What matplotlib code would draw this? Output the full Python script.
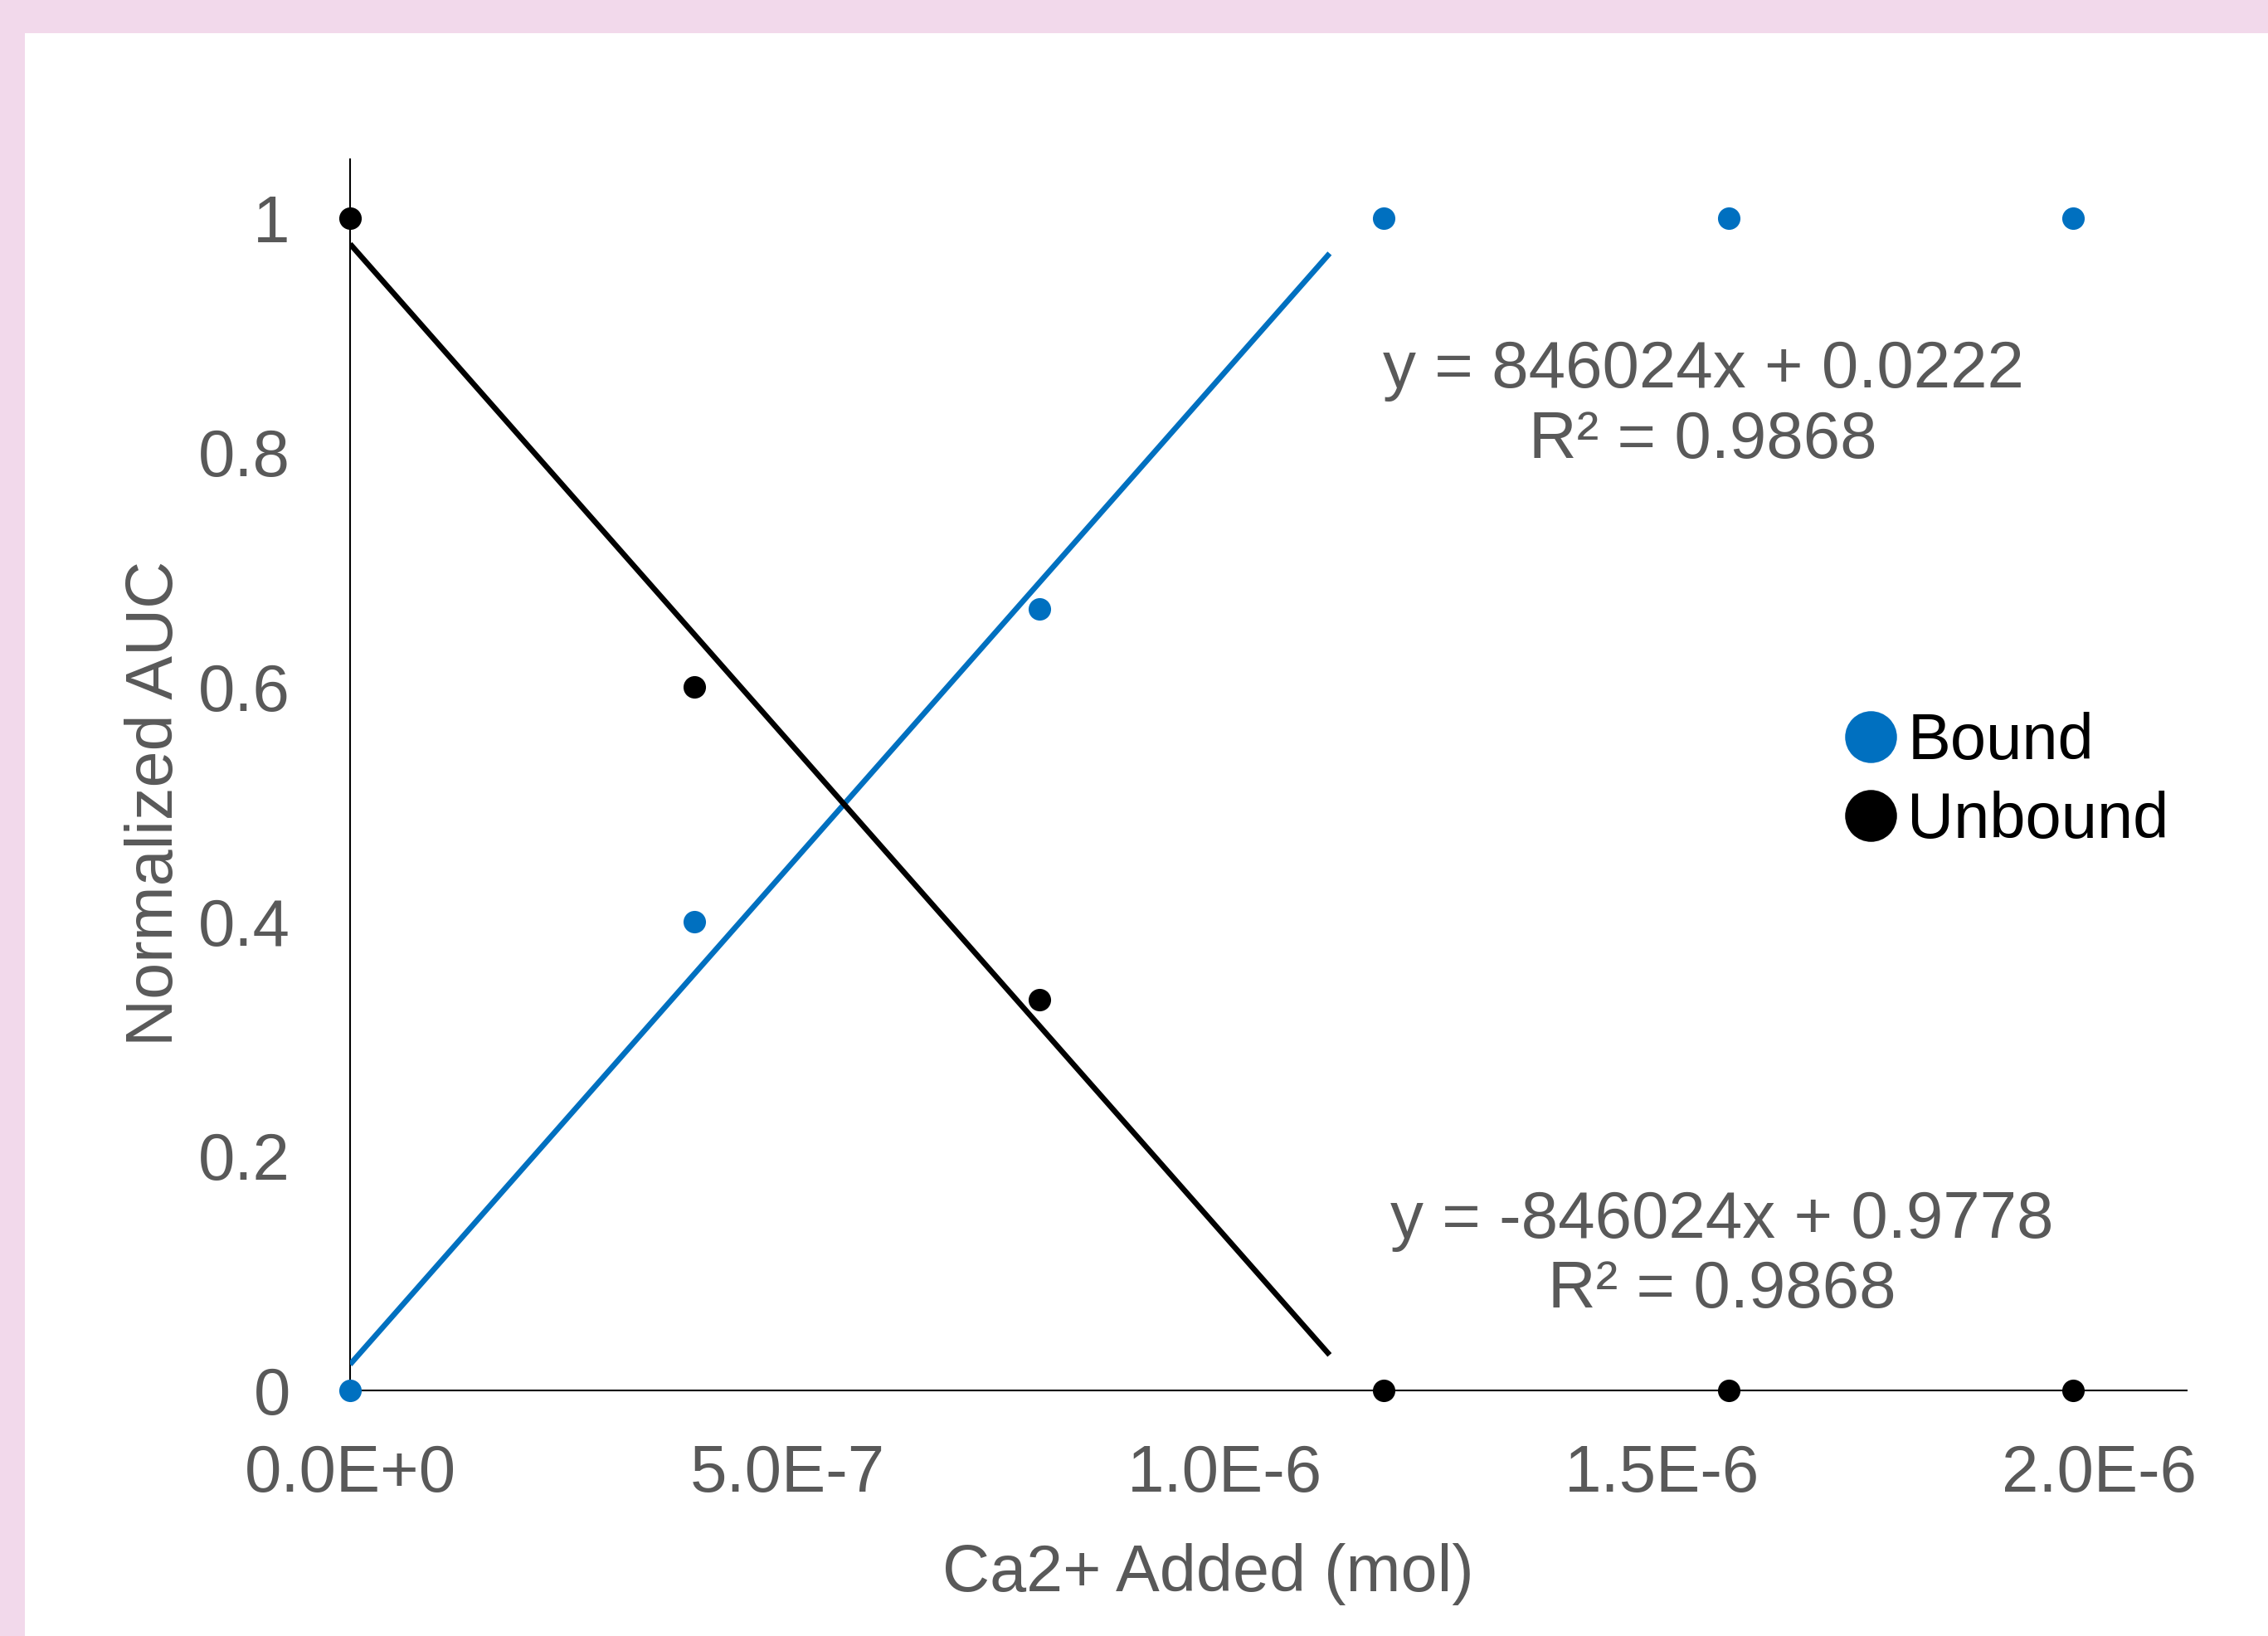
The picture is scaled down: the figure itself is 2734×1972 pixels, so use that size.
import matplotlib.pyplot as plt
import numpy as np
from matplotlib.lines import Line2D
from matplotlib.patches import Rectangle

# data
ca_added = [0, 3.94e-7, 7.88e-7, 1.182e-6, 1.576e-6, 1.97e-6]
bound = [0, 0.4, 0.6667, 1, 1, 1]
unbound = [1, 0.6, 0.3333, 0, 0, 0]

# trendlines (Excel linear fit on the first three points, forecast forward)
slope = 846024
bound_intercept = 0.0222
unbound_intercept = 0.9778
trend_end = 1.12e-6

x_ticks = [0, 5e-7, 1e-6, 1.5e-6, 2e-6]
x_ticklabels = ["0.0E+0", "5.0E-7", "1.0E-6", "1.5E-6", "2.0E-6"]
y_ticks = [0, 0.2, 0.4, 0.6, 0.8, 1]
y_ticklabels = ["0", "0.2", "0.4", "0.6", "0.8", "1"]

blue = "#0070C0"
grey = "#595959"
pink = "#F2D9EB"

plt.rcParams['font.family'] = ['Liberation Sans', 'DejaVu Sans']

fig = plt.figure(figsize=(27.34, 19.72), dpi=100)
fig.patch.set_facecolor(pink)
fig.patches.append(Rectangle((30 / 2734, 0), 1, 1 - 40 / 1972, transform=fig.transFigure,
                             facecolor="white", edgecolor="none", zorder=-10))

ax = fig.add_axes([422 / 2734, 1 - 1676 / 1972, (2636 - 422) / 2734, (1676 - 192) / 1972])
ax.set_facecolor("none")

xs = np.array([0, trend_end])
ax.plot(xs, slope * xs + bound_intercept, color=blue, lw=4.8, zorder=3, solid_capstyle="butt")
ax.plot(xs, -slope * xs + unbound_intercept, color="black", lw=4.8, zorder=3, solid_capstyle="butt")

ax.plot(ca_added, bound, "o", color=blue, ms=19.5, mew=0, zorder=4, clip_on=False)
ax.plot(ca_added, unbound, "o", color="black", ms=19.5, mew=0, zorder=4, clip_on=False)

ax.set_xlim(0, 2.1e-6)
ax.set_ylim(0, 1.05)

for s in ["top", "right"]:
    ax.spines[s].set_visible(False)
ax.spines["left"].set_linewidth(1.5)
ax.spines["bottom"].set_linewidth(1.5)
ax.spines["left"].set_zorder(2)
ax.spines["bottom"].set_zorder(2)

ax.set_xticks(x_ticks)
ax.set_xticklabels(x_ticklabels)
ax.set_yticks(y_ticks)
ax.set_yticklabels(y_ticklabels)
ax.tick_params(axis="x", length=0, pad=46, labelsize=57.5, labelcolor=grey)
ax.tick_params(axis="y", length=0, pad=52, labelsize=57.5, labelcolor=grey)

ax.set_xlabel("Ca2+ Added (mol)", fontsize=57, color=grey, va="center")
ax.xaxis.set_label_coords(0.467, -0.149)
ax.set_ylabel("Normalized AUC", fontsize=57, color=grey, va="center")
ax.yaxis.set_label_coords(-0.1057, 0.477)

ax.text(1.547e-6, 0.840, "y = 846024x + 0.0222\nR\u00b2 = 0.9868", fontsize=57.5, color=grey,
        ha="center", va="center", multialignment="center", linespacing=1.17)
ax.text(1.569e-6, 0.115, "y = -846024x + 0.9778\nR\u00b2 = 0.9868", fontsize=57.5, color=grey,
        ha="center", va="center", multialignment="center", linespacing=1.17)

handles = [
    Line2D([], [], marker="o", ls="none", color=blue, ms=45, mew=0),
    Line2D([], [], marker="o", ls="none", color="black", ms=45, mew=0),
]
fig.legend(handles, ["Bound", "Unbound"], loc="center left", bbox_to_anchor=(2220 / 2734, 1 - 942 / 1972),
           frameon=False, fontsize=56, handlelength=0.9, handletextpad=0.12, borderpad=0,
           borderaxespad=0, labelspacing=0.28)

fig.savefig("out.png", dpi=100, facecolor=fig.get_facecolor())
